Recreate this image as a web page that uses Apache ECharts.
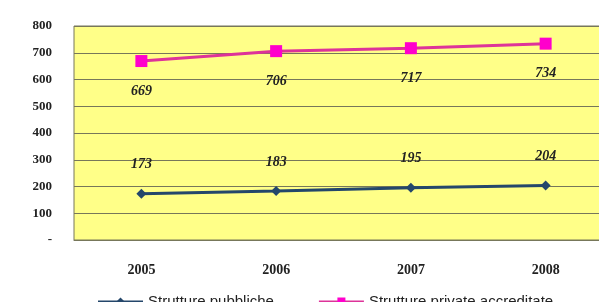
<!DOCTYPE html>
<html>
<head>
    <meta charset="utf-8">
    <title>Strutture</title>
    <script src="https://cdn.jsdelivr.net/npm/echarts@6/dist/echarts.min.js"></script>
</head>
<body style="margin: 0; padding: 0; background: #fff;">
<div id="main" style="width: 599px; height: 302px;"></div>
<script type="text/javascript">
    // dati
    var anni = ['2005', '2006', '2007', '2008'];
    var pubbliche = [173, 183, 195, 204];
    var private_acc = [669, 706, 717, 734];
    var yTicks = {0: '-', 100: '100', 200: '200', 300: '300', 400: '400', 500: '500', 600: '600', 700: '700', 800: '800'};

    var myChart = echarts.init(document.getElementById('main'));

    var labelFont = {
        fontFamily: 'Liberation Serif',
        fontStyle: 'italic',
        fontWeight: 'bold',
        fontSize: 14,
        color: '#222'
    };

    var option = {
        animation: false,
        grid: {
            left: 74, top: 26, width: 539, height: 214,
            outerBoundsMode: 'none',
            show: true,
            backgroundColor: '#FFFF88',
            borderColor: '#77775a',
            borderWidth: 1
        },
        legend: {
            left: 92, top: 289,
            itemWidth: 45, itemHeight: 10,
            itemGap: 44,
            textStyle: {fontFamily: 'Liberation Sans', fontSize: 15, color: '#222'},
            data: ['Strutture pubbliche', 'Strutture private accreditate']
        },
        xAxis: {
            type: 'category',
            data: anni,
            boundaryGap: true,
            axisLine: {lineStyle: {color: '#77775a'}},
            axisTick: {alignWithLabel: true, length: 5, lineStyle: {color: '#888'}},
            axisLabel: {
                margin: 23,
                fontFamily: 'Liberation Serif', fontWeight: 'bold', fontSize: 14, color: '#222'
            }
        },
        yAxis: {
            type: 'value',
            min: 0, max: 800, interval: 100,
            axisLine: {show: false},
            axisTick: {show: false},
            splitLine: {lineStyle: {color: '#77775a', width: 1}},
            axisLabel: {
                margin: 22,
                fontFamily: 'Liberation Serif', fontWeight: 'bold', fontSize: 13, color: '#222',
                formatter: function (v) { return yTicks[v]; }
            }
        },
        series: [
            {
                name: 'Strutture pubbliche',
                type: 'line',
                data: pubbliche,
                symbol: 'diamond',
                symbolSize: 10,
                lineStyle: {color: '#24476b', width: 3},
                itemStyle: {color: '#24476b'},
                label: Object.assign({show: true, position: 'top', distance: 17}, labelFont)
            },
            {
                name: 'Strutture private accreditate',
                type: 'line',
                data: private_acc,
                symbol: 'rect',
                symbolSize: 12,
                lineStyle: {color: '#dd3399', width: 3},
                itemStyle: {color: '#ff00cc'},
                label: Object.assign({show: true, position: 'bottom', distance: 17}, labelFont)
            }
        ]
    };

    myChart.setOption(option);
</script>
</body>
</html>
